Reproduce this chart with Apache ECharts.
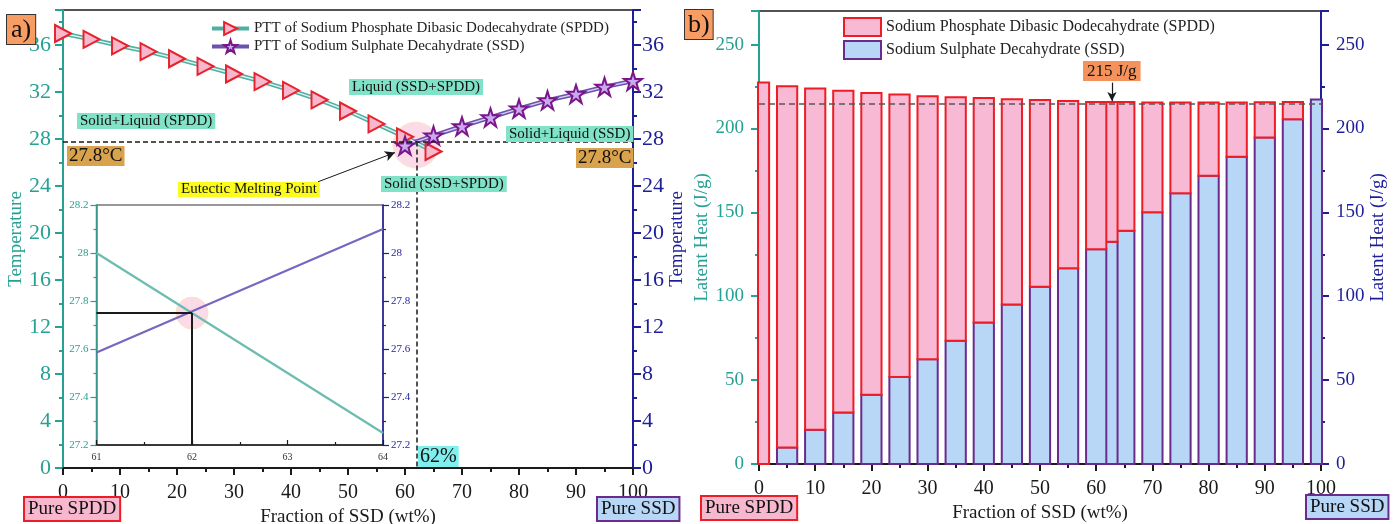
<!DOCTYPE html>
<html>
<head>
<meta charset="utf-8">
<script src="https://cdn.jsdelivr.net/npm/echarts@6/dist/echarts.min.js"></script>
<style>
  html, body { margin: 0; padding: 0; background: #ffffff; }
  #chart { width: 1399px; height: 524px; }
</style>
</head>
<body>
<div id="chart"></div>
<script>
// ---- (a) phase transition temperature vs. SSD fraction ----
const spddFraction = [0, 5, 10, 15, 20, 25, 30, 35, 40, 45, 50, 55, 60, 65];
const spddTemp = [37.0, 36.5, 35.95, 35.45, 34.85, 34.2, 33.55, 32.9, 32.15, 31.35, 30.4, 29.3, 28.2, 26.95];
const ssdFraction = [60, 65, 70, 75, 80, 85, 90, 95, 100];
const ssdTemp = [27.45, 28.3, 29.1, 29.85, 30.6, 31.3, 31.85, 32.45, 32.95];

const eutecticFraction = 62;      // wt% SSD
const eutecticTemp = 27.8;        // °C
const eutecticHalo = [61.9, 27.5];

// zoomed view around the eutectic composition
const insetFraction = [61, 64];
const insetSpddTemp = [28.0, 27.25];
const insetSsdTemp = [27.585, 28.1];
const insetCross = [62, 27.75];

// ---- (b) latent heat contributions ----
const heatFraction = [0, 5, 10, 15, 20, 25, 30, 35, 40, 45, 50, 55, 60, 62, 65, 70, 75, 80, 85, 90, 95, 100];
const ssdHeat = [0, 9.9, 20.4, 30.7, 41.3, 51.8, 62.5, 73.4, 84.3, 95.0, 105.7, 116.7, 128.0, 132.5, 139.0, 150.0, 161.3, 171.8, 183.1, 194.6, 205.5, 217.2];
const spddHeat = [227.4, 215.3, 203.4, 191.7, 179.9, 168.4, 156.7, 145.2, 133.8, 122.4, 111.2, 99.7, 87.8, 83.3, 76.7, 65.5, 54.2, 43.7, 32.4, 21.0, 10.3, 0];
const averageHeat = 215;

const SPDD_PTT = 'PTT of Sodium Phosphate Dibasic Dodecahydrate (SPDD)';
const SSD_PTT = 'PTT of Sodium Sulphate Decahydrate (SSD)';
const SPDD_NAME = 'Sodium Phosphate Dibasic Dodecahydrate (SPDD)';
const SSD_NAME = 'Sodium Sulphate Decahydrate (SSD)';

const FONT = '"Liberation Serif", "Times New Roman", serif';
const TEAL = '#26a193';
const NAVY = '#1e1e98';
const BLACK = '#1a1a1a';
const STAR = 'path://M50,0 L61.8,35.5 L99,35.5 L69,57.5 L80.5,93 L50,71 L19.5,93 L31,57.5 L1,35.5 L38.2,35.5 Z';
const BAR_HALF = 1.8;

function yAxisMain(opt) {
  return {
    type: 'value', gridIndex: opt.grid, position: opt.pos,
    min: opt.min, max: opt.max, interval: opt.interval,
    name: opt.name, nameLocation: 'middle', nameRotate: 90, nameGap: opt.nameGap,
    nameTextStyle: { color: opt.color, fontFamily: FONT, fontSize: 19 },
    axisLine: { show: true, onZero: false, lineStyle: { color: opt.color, width: 2 } },
    axisTick: { show: true, inside: false, length: 8, lineStyle: { color: opt.color, width: 2 } },
    minorTick: { show: true, splitNumber: 2, length: 4, lineStyle: { color: opt.color, width: 2 } },
    splitLine: { show: false },
    axisLabel: {
      color: opt.color, fontFamily: FONT, fontSize: opt.fs, margin: opt.margin,
      formatter: v => (Math.abs(v / opt.interval - Math.round(v / opt.interval)) < 1e-6 ? String(v) : '')
    }
  };
}

function xAxisMain(grid, name, nameGap) {
  return {
    type: 'value', gridIndex: grid, min: 0, max: 100, interval: 10,
    name: name, nameLocation: 'middle', nameGap: nameGap,
    nameTextStyle: { color: BLACK, fontFamily: FONT, fontSize: 19 },
    axisLine: { show: true, onZero: false, lineStyle: { color: BLACK, width: 2 } },
    axisTick: { show: true, inside: false, length: 7, lineStyle: { color: BLACK, width: 2 } },
    minorTick: { show: true, splitNumber: 2, length: 4, lineStyle: { color: BLACK, width: 2 } },
    splitLine: { show: false },
    axisLabel: { color: BLACK, fontFamily: FONT, fontSize: 20, margin: 15 }
  };
}

function insetY(pos, color) {
  return {
    type: 'value', gridIndex: 1, position: pos, min: 27.2, max: 28.2, interval: 0.2,
    axisLine: { show: true, onZero: false, lineStyle: { color: color, width: 1.5 } },
    axisTick: { show: true, inside: false, length: 6, lineStyle: { color: color, width: 1.2 } },
    minorTick: { show: true, splitNumber: 2, length: 3, lineStyle: { color: color, width: 1.2 } },
    splitLine: { show: false },
    axisLabel: { color: color, fontFamily: FONT, fontSize: 11, margin: 8 }
  };
}

function barPart(name, lower, upper, fill, stroke) {
  // draw right-to-left so the close neighbours at 60/62/65 overlap like stacked cards
  const order = heatFraction.map((_, i) => i).reverse();
  return {
    type: 'custom', name: name, xAxisIndex: 2, yAxisIndex: 4,
    itemStyle: { color: fill, borderColor: stroke, borderWidth: 2 },
    encode: { x: 0, y: [1, 2] },
    data: order.map(i => [heatFraction[i], lower(i), upper(i)]),
    renderItem: function (params, api) {
      const x = api.value(0), lo = api.value(1), hi = api.value(2);
      if (hi - lo <= 0) return null;
      const a = api.coord([x - BAR_HALF, hi]);
      const b = api.coord([x + BAR_HALF, lo]);
      const cs = params.coordSys;
      const shape = echarts.graphic.clipRectByRect(
        { x: a[0], y: a[1], width: b[0] - a[0], height: b[1] - a[1] },
        { x: cs.x - 1, y: cs.y, width: cs.width + 2, height: cs.height }
      );
      if (!shape) return null;
      return { type: 'rect', shape: shape, style: { fill: fill, stroke: stroke, lineWidth: 2 } };
    }
  };
}

function tag(text, x, y, bg, size, extra) {
  return {
    type: 'text', x: x, y: y, z: 100,
    style: Object.assign({
      text: text, font: size + 'px ' + FONT, fill: '#111',
      backgroundColor: bg, padding: [1, 3, 0, 3],
      align: 'left', verticalAlign: 'top'
    }, extra || {})
  };
}

function gridBox(left, top, width, height, border) {
  return {
    left: left, top: top, width: width, height: height,
    containLabel: false, outerBoundsMode: 'none',
    show: true, borderColor: border, borderWidth: 1.5, backgroundColor: 'transparent'
  };
}

const chart = echarts.init(document.getElementById('chart'), null, { renderer: 'canvas' });

const option = {
  animation: false,
  backgroundColor: '#ffffff',
  grid: [
    gridBox(63, 10, 570, 458, BLACK),
    gridBox(96.5, 205, 286.5, 240, '#777'),
    gridBox(759, 11, 562, 453, BLACK)
  ],
  xAxis: [
    xAxisMain(0, 'Fraction of SSD (wt%)', 34),
    {
      type: 'value', gridIndex: 1, min: 61, max: 64, interval: 1,
      axisLine: { show: true, onZero: false, lineStyle: { color: BLACK, width: 1.5 } },
      axisTick: { show: true, inside: true, length: 5, lineStyle: { color: BLACK, width: 1.2 } },
      minorTick: { show: true, splitNumber: 2, length: 3, lineStyle: { color: BLACK, width: 1.2 } },
      splitLine: { show: false },
      axisLabel: { color: '#333', fontFamily: FONT, fontSize: 10, margin: 7 }
    },
    xAxisMain(2, 'Fraction of SSD (wt%)', 36)
  ],
  yAxis: [
    yAxisMain({ grid: 0, pos: 'left', min: 0, max: 39, interval: 4, name: 'Temperature', nameGap: 33, color: TEAL, fs: 22, margin: 12 }),
    yAxisMain({ grid: 0, pos: 'right', min: 0, max: 39, interval: 4, name: 'Temperature', nameGap: 33, color: NAVY, fs: 22, margin: 9 }),
    insetY('left', TEAL),
    insetY('right', NAVY),
    yAxisMain({ grid: 2, pos: 'left', min: 0, max: 270, interval: 50, name: 'Latent Heat (J/g)', nameGap: 42, color: TEAL, fs: 19, margin: 15 }),
    yAxisMain({ grid: 2, pos: 'right', min: 0, max: 270, interval: 50, name: 'Latent Heat (J/g)', nameGap: 45, color: NAVY, fs: 19, margin: 15 })
  ],
  legend: [
    {
      left: 210, top: 21, padding: 0, orient: 'vertical', itemWidth: 37, itemHeight: 16, itemGap: 3,
      textStyle: { color: '#222', fontFamily: FONT, fontSize: 15 },
      data: [
        { name: SPDD_PTT, lineStyle: { color: '#4fb0a2', width: 4 } },
        { name: SSD_PTT, lineStyle: { color: '#6a52ad', width: 4 } }
      ]
    },
    {
      left: 843, top: 17, padding: 0, orient: 'vertical', itemWidth: 37, itemHeight: 18, itemGap: 3,
      icon: 'rect',
      textStyle: { color: '#222', fontFamily: FONT, fontSize: 16 },
      data: [
        { name: SPDD_NAME, itemStyle: { color: '#f8b9d4', borderColor: '#ee1d25', borderWidth: 2 } },
        { name: SSD_NAME, itemStyle: { color: '#b8d7f6', borderColor: '#6b2b8c', borderWidth: 2 } }
      ]
    }
  ],
  series: [
    // eutectic highlight on the main phase diagram
    {
      type: 'scatter', xAxisIndex: 0, yAxisIndex: 0, silent: true, z: 1,
      symbolSize: 46, data: [eutecticHalo],
      itemStyle: { color: 'rgba(246,180,206,0.6)', borderColor: 'rgba(250,230,190,0.9)', borderWidth: 1 }
    },
    // SPDD branch: outer band of the double line
    {
      type: 'line', xAxisIndex: 0, yAxisIndex: 0, silent: true, z: 2, showSymbol: false, symbol: 'none',
      data: spddFraction.map((x, i) => [x, spddTemp[i]]),
      lineStyle: { color: '#4fb0a2', width: 4.5 },
      markLine: {
        silent: true, symbol: 'none', label: { show: false },
        lineStyle: { color: BLACK, type: [5, 3], width: 1.5 },
        data: [
          [{ coord: [0, eutecticTemp] }, { coord: [100, eutecticTemp] }],
          [{ coord: [eutecticFraction, eutecticTemp] }, { coord: [eutecticFraction, 0] }]
        ]
      }
    },
    {
      type: 'line', name: SPDD_PTT, xAxisIndex: 0, yAxisIndex: 0, z: 3,
      data: spddFraction.map((x, i) => [x, spddTemp[i]]),
      lineStyle: { color: '#e3f4f0', width: 1.4 },
      symbol: 'triangle', symbolSize: [17, 16], symbolRotate: -90,
      itemStyle: { color: '#f7b7cd', borderColor: '#e8222c', borderWidth: 2 }
    },
    // SSD branch
    {
      type: 'line', xAxisIndex: 0, yAxisIndex: 0, silent: true, z: 2, showSymbol: false, symbol: 'none',
      data: ssdFraction.map((x, i) => [x, ssdTemp[i]]),
      lineStyle: { color: '#6a52ad', width: 4.5 },
      markLine: {
        silent: true, symbol: ['none', 'arrow'], symbolSize: [8, 10], label: { show: false },
        lineStyle: { color: BLACK, type: 'solid', width: 1 },
        data: [[{ coord: [44.74, 24.37] }, { coord: [58.24, 26.86] }]]
      }
    },
    {
      type: 'line', name: SSD_PTT, xAxisIndex: 0, yAxisIndex: 0, z: 3,
      data: ssdFraction.map((x, i) => [x, ssdTemp[i]]),
      lineStyle: { color: '#d9cef5', width: 1.4 },
      symbol: STAR, symbolSize: 18,
      itemStyle: { color: '#c9aaf0', borderColor: '#7a168a', borderWidth: 2 }
    },
    // inset
    {
      type: 'scatter', xAxisIndex: 1, yAxisIndex: 2, silent: true, z: 1,
      symbolSize: 32, data: [insetCross],
      itemStyle: { color: 'rgba(246,180,206,0.6)', borderColor: 'rgba(250,225,170,0.9)', borderWidth: 1 }
    },
    {
      type: 'line', xAxisIndex: 1, yAxisIndex: 2, silent: true, z: 2, symbol: 'none',
      data: insetFraction.map((x, i) => [x, insetSpddTemp[i]]),
      lineStyle: { color: '#6cbcaf', width: 2.2 },
      markLine: {
        silent: true, symbol: 'none', label: { show: false },
        lineStyle: { color: BLACK, type: 'solid', width: 2 },
        data: [
          [{ coord: [61, insetCross[1]] }, { coord: [insetCross[0], insetCross[1]] }],
          [{ coord: [insetCross[0], insetCross[1]] }, { coord: [insetCross[0], 27.2] }]
        ]
      }
    },
    {
      type: 'line', xAxisIndex: 1, yAxisIndex: 2, silent: true, z: 2, symbol: 'none',
      data: insetFraction.map((x, i) => [x, insetSsdTemp[i]]),
      lineStyle: { color: '#7766c2', width: 2.2 }
    },
    // (b) stacked latent heat bars
    barPart(SSD_NAME, i => 0, i => ssdHeat[i], '#b8d7f6', '#6b2b8c'),
    barPart(SPDD_NAME, i => ssdHeat[i], i => ssdHeat[i] + spddHeat[i], '#f8b9d4', '#ee1d25'),
    {
      type: 'line', xAxisIndex: 2, yAxisIndex: 4, silent: true, z: 5, data: [],
      markLine: {
        silent: true, symbol: 'none', label: { show: false },
        lineStyle: { color: '#555', type: [6, 4], width: 1.5 },
        data: [[{ coord: [0, averageHeat] }, { coord: [100, averageHeat] }]]
      }
    },
    {
      type: 'line', xAxisIndex: 2, yAxisIndex: 4, silent: true, z: 5, data: [],
      markLine: {
        silent: true, symbol: ['none', 'arrow'], symbolSize: [7, 9], label: { show: false },
        lineStyle: { color: BLACK, type: 'solid', width: 1.2 },
        data: [[{ coord: [62.8, 227.3] }, { coord: [62.8, 216.4] }]]
      }
    }
  ],
  graphic: [
    tag('a)', 7, 15, '#f79c63', 26, { borderColor: '#333', borderWidth: 1, padding: [2, 4, 1, 4] }),
    tag('b)', 685, 10, '#f79c63', 26, { borderColor: '#333', borderWidth: 1, padding: [2, 3, 1, 3] }),
    tag('Solid+Liquid (SPDD)', 77, 113, '#80e3c7', 15),
    tag('Liquid (SSD+SPDD)', 349, 79, '#80e3c7', 15),
    tag('Solid+Liquid (SSD)', 506, 126, '#80e3c7', 15),
    tag('Solid (SSD+SPDD)', 381, 176, '#80e3c7', 15),
    tag('Eutectic Melting Point', 178, 182, '#fbfb1e', 15, { padding: [0, 3, 0, 3] }),
    tag('27.8°C', 67, 146, '#d9a24c', 19, { padding: [1, 2, 0, 2] }),
    tag('27.8°C', 576, 148, '#d9a24c', 19, { padding: [1, 2, 0, 2] }),
    tag('62%', 418, 446, '#80f0ef', 20, { padding: [1, 2, 0, 2] }),
    tag('215 J/g', 1083, 61, '#f5925b', 17, { padding: [2, 4, 1, 4] }),
    tag('Pure SPDD', 25, 498, '#f7b7cf', 19, { borderColor: '#ee1d25', borderWidth: 2, padding: [2, 3, 1, 3] }),
    tag('Pure SSD', 598, 498, '#b8d7f6', 19, { borderColor: '#6b2b8c', borderWidth: 2, padding: [2, 3, 1, 3] }),
    tag('Pure SPDD', 702, 497, '#f7b7cf', 19, { borderColor: '#ee1d25', borderWidth: 2, padding: [2, 3, 1, 3] }),
    tag('Pure SSD', 1307, 496, '#b8d7f6', 19, { borderColor: '#6b2b8c', borderWidth: 2, padding: [2, 3, 1, 3] })
  ]
};

chart.setOption(option);
</script>
</body>
</html>
